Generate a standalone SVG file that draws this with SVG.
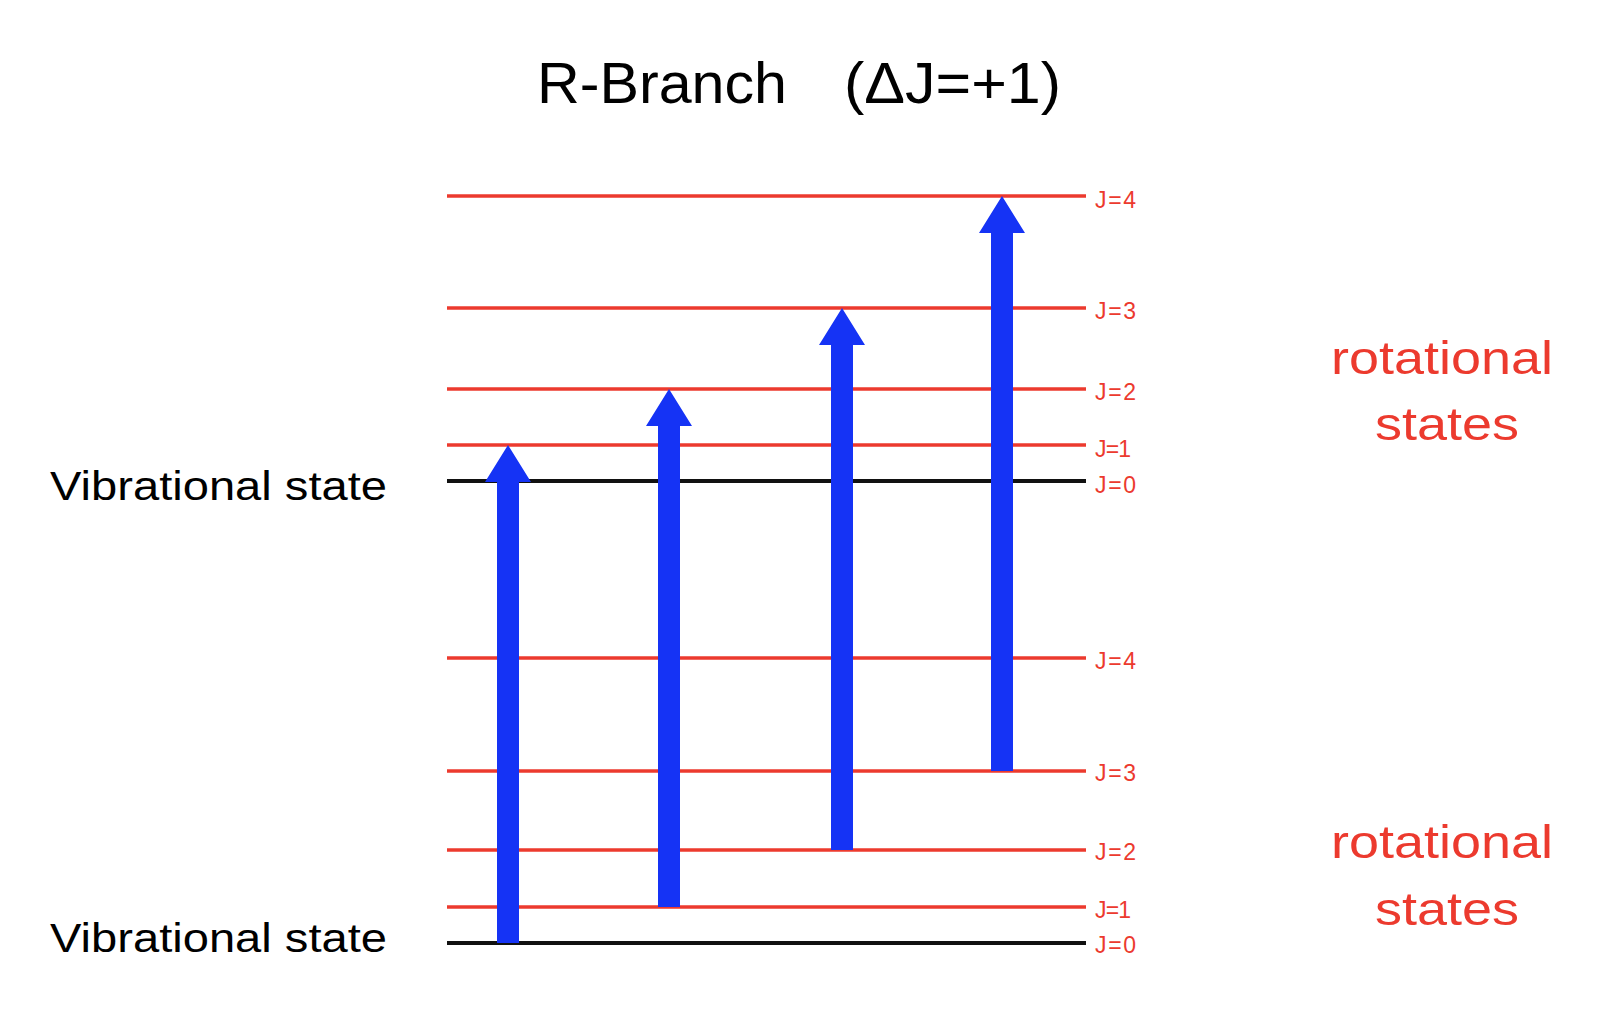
<svg xmlns="http://www.w3.org/2000/svg" width="1618" height="1036" viewBox="0 0 1618 1036">
<style>
.red{stroke:#EC3A2E;stroke-width:3.5}
.blk{stroke:#111;stroke-width:4}
.lbl{font-family:"Liberation Sans",Arial,sans-serif;font-size:23px;fill:#EC3A2E}
.big{font-family:"Liberation Sans",Arial,sans-serif;fill:#000}
.rot{font-family:"Liberation Sans",Arial,sans-serif;font-size:47px;fill:#EC3A2E}
.arr{fill:#1533F5}
</style>
<rect width="1618" height="1036" fill="#fff"/>
<text class="big" y="103" font-size="58"><tspan x="537" textLength="250" lengthAdjust="spacingAndGlyphs">R-Branch</tspan><tspan x="844" textLength="217" lengthAdjust="spacingAndGlyphs">(ΔJ=+1)</tspan></text>
<g id="upper-levels">
<line class="red" x1="447" y1="196" x2="1086" y2="196"/>
<line class="red" x1="447" y1="308" x2="1086" y2="308"/>
<line class="red" x1="447" y1="389" x2="1086" y2="389"/>
<line class="red" x1="447" y1="445" x2="1086" y2="445"/>
<line class="blk" x1="447" y1="481" x2="1086" y2="481"/>
<text class="lbl" x="1095" y="208" textLength="41">J=4</text>
<text class="lbl" x="1095" y="319" textLength="41">J=3</text>
<text class="lbl" x="1095" y="394" textLength="41" dy="6">J=2</text>
<text class="lbl" x="1095" y="457" textLength="36">J=1</text>
<text class="lbl" x="1095" y="493" textLength="41">J=0</text>
</g>
<g id="lower-levels">
<line class="red" x1="447" y1="658" x2="1086" y2="658"/>
<line class="red" x1="447" y1="771" x2="1086" y2="771"/>
<line class="red" x1="447" y1="850" x2="1086" y2="850"/>
<line class="red" x1="447" y1="907" x2="1086" y2="907"/>
<line class="blk" x1="447" y1="943" x2="1086" y2="943"/>
<text class="lbl" x="1095" y="669" textLength="41">J=4</text>
<text class="lbl" x="1095" y="781" textLength="41">J=3</text>
<text class="lbl" x="1095" y="860" textLength="41">J=2</text>
<text class="lbl" x="1095" y="918" textLength="36">J=1</text>
<text class="lbl" x="1095" y="953" textLength="41">J=0</text>
</g>
<g id="labels">
<text class="big" x="50" y="500" font-size="40" textLength="337" lengthAdjust="spacingAndGlyphs">Vibrational state</text>
<text class="big" x="50" y="952" font-size="40" textLength="337" lengthAdjust="spacingAndGlyphs">Vibrational state</text>
<text class="rot" x="1331" y="374" textLength="222" lengthAdjust="spacingAndGlyphs">rotational</text>
<text class="rot" x="1375" y="440" textLength="144" lengthAdjust="spacingAndGlyphs">states</text>
<text class="rot" x="1331" y="858" textLength="222" lengthAdjust="spacingAndGlyphs">rotational</text>
<text class="rot" x="1375" y="925" textLength="144" lengthAdjust="spacingAndGlyphs">states</text>
</g>
<g id="connectors">
<path class="arr" d="M497,943 V482 H485 L508,445 L531,482 H519 V943 Z"/>
<path class="arr" d="M658,907 V426 H646 L669,389 L692,426 H680 V907 Z"/>
<path class="arr" d="M831,850 V345 H819 L842,308 L865,345 H853 V850 Z"/>
<path class="arr" d="M991,771 V233 H979 L1002,196 L1025,233 H1013 V771 Z"/>
</g>
</svg>
